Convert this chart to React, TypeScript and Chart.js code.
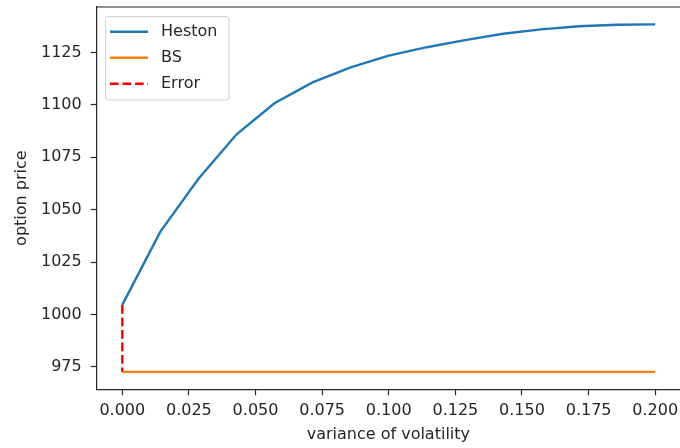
import React, { useEffect, useRef } from "react";
import { Chart, registerables } from "chart.js";

Chart.register(...registerables);

const variance = [0, 0.0143, 0.0286, 0.0429, 0.0571, 0.0714, 0.0857, 0.1, 0.1143, 0.1286, 0.1429, 0.1571, 0.1714, 0.1857, 0.2];
const hestonPrice = [1004.5, 1039.5, 1064.8, 1086.0, 1100.8, 1110.8, 1118.0, 1123.6, 1127.6, 1131.0, 1134.0, 1136.1, 1137.6, 1138.3, 1138.5];
const bsPrice = [972.5, 972.5, 972.5, 972.5, 972.5, 972.5, 972.5, 972.5, 972.5, 972.5, 972.5, 972.5, 972.5, 972.5, 972.5];
const errorX = [0, 0];
const errorY = [1004.5, 972.5];
const xTicks = [0, 0.025, 0.05, 0.075, 0.1, 0.125, 0.15, 0.175, 0.2];
const yTicks = [975, 1000, 1025, 1050, 1075, 1100, 1125];

const FONT = "'DejaVu Sans', sans-serif";
const FS = 16;
const TXT = "#262626";

const frameAndLegend = {
  id: "frameAndLegend",
  afterDraw(chart: any) {
    const { ctx, chartArea } = chart;
    ctx.save();
    ctx.strokeStyle = TXT;
    ctx.lineWidth = 1.2;
    ctx.beginPath();
    ctx.moveTo(chartArea.left, chartArea.top);
    ctx.lineTo(chartArea.right, chartArea.top);
    ctx.stroke();

    // legend
    const bx = 105.5, by = 16.5, bw = 123.5, bh = 83.5, r = 3;
    ctx.beginPath();
    ctx.moveTo(bx + r, by);
    ctx.lineTo(bx + bw - r, by);
    ctx.arcTo(bx + bw, by, bx + bw, by + r, r);
    ctx.lineTo(bx + bw, by + bh - r);
    ctx.arcTo(bx + bw, by + bh, bx + bw - r, by + bh, r);
    ctx.lineTo(bx + r, by + bh);
    ctx.arcTo(bx, by + bh, bx, by + bh - r, r);
    ctx.lineTo(bx, by + r);
    ctx.arcTo(bx, by, bx + r, by, r);
    ctx.closePath();
    ctx.fillStyle = "rgba(255,255,255,0.8)";
    ctx.fill();
    ctx.strokeStyle = "#d0d0d0";
    ctx.lineWidth = 1;
    ctx.stroke();

    chart.data.datasets.forEach((ds: any, i: number) => {
      const y = 31.7 + 26 * i;
      ctx.beginPath();
      ctx.setLineDash(ds.borderDash || []);
      ctx.strokeStyle = ds.borderColor;
      ctx.lineWidth = ds.borderWidth;
      ctx.moveTo(110, y);
      ctx.lineTo(148, y);
      ctx.stroke();
      ctx.setLineDash([]);
      ctx.fillStyle = TXT;
      ctx.font = `${FS}px ${FONT}`;
      ctx.textBaseline = "middle";
      ctx.textAlign = "left";
      ctx.fillText(ds.label, 161, y);
    });
    ctx.restore();
  },
};

export default function App() {
  const ref = useRef<HTMLCanvasElement>(null);
  useEffect(() => {
    if (!ref.current) return;
    const chart = new Chart(ref.current, {
      type: "line",
      data: {
        datasets: [
          {
            label: "Heston",
            data: variance.map((x, i) => ({ x, y: hestonPrice[i] })),
            borderColor: "#1f77b4",
            borderWidth: 2.4,
            pointRadius: 0,
            tension: 0,
          },
          {
            label: "BS",
            data: variance.map((x, i) => ({ x, y: bsPrice[i] })),
            borderColor: "#ff7f0e",
            borderWidth: 2.4,
            pointRadius: 0,
            tension: 0,
          },
          {
            label: "Error",
            data: errorX.map((x, i) => ({ x, y: errorY[i] })),
            borderColor: "#ff0000",
            borderWidth: 2.4,
            borderDash: [8.7, 3.8],
            pointRadius: 0,
            tension: 0,
          },
        ],
      },
      options: {
        animation: false,
        responsive: false,
        devicePixelRatio: 1,
        layout: { padding: { top: 7, right: 0, left: 0, bottom: 0 } },
        plugins: { legend: { display: false }, tooltip: { enabled: false } },
        scales: {
          x: {
            type: "linear",
            min: -0.0096,
            max: 0.2093,
            afterBuildTicks: (s: any) => {
              s.ticks = xTicks.map((v) => ({ value: v }));
            },
            afterFit: (s: any) => {
              s.height = 58.7;
              s.paddingLeft = 0;
              s.paddingRight = 0;
            },
            ticks: {
              callback: (v: any) => Number(v).toFixed(3),
              font: { family: FONT, size: FS },
              color: TXT,
              padding: 6,
              maxRotation: 0,
              autoSkip: false,
            },
            grid: { display: true, drawOnChartArea: false, drawTicks: true, tickLength: 6, tickColor: TXT, tickWidth: 1.2 },
            border: { display: true, color: TXT, width: 1.2 },
            title: { display: true, text: "variance of volatility", font: { family: FONT, size: FS }, color: TXT, padding: { top: 0, bottom: 4 } },
          },
          y: {
            type: "linear",
            min: 964.2,
            max: 1146.8,
            afterBuildTicks: (s: any) => {
              s.ticks = yTicks.map((v) => ({ value: v }));
            },
            afterFit: (s: any) => {
              s.width = 96.7;
              s.paddingTop = 0;
              s.paddingBottom = 0;
            },
            ticks: {
              callback: (v: any) => String(v),
              font: { family: FONT, size: FS },
              color: TXT,
              padding: 9,
              autoSkip: false,
            },
            grid: { display: true, drawOnChartArea: false, drawTicks: true, tickLength: 6, tickColor: TXT, tickWidth: 1.2 },
            border: { display: true, color: TXT, width: 1.2 },
            title: { display: true, text: "option price", font: { family: FONT, size: FS }, color: TXT, padding: { top: 12, bottom: 0 } },
          },
        },
      },
      plugins: [frameAndLegend],
    });
    return () => chart.destroy();
  }, []);
  return (
    <div style={{ position: "absolute", left: 0, top: 0, width: 680, height: 448 }}>
      <canvas ref={ref} width={680} height={448} style={{ display: "block", width: 680, height: 448 }} />
    </div>
  );
}
